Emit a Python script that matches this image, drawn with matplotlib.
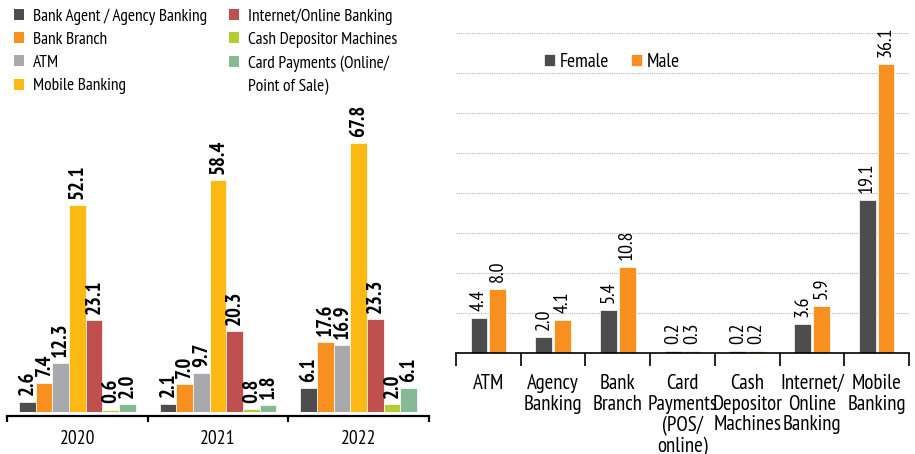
# Access channels chart: usage by year (left) and by gender (right)
import matplotlib
matplotlib.use("Agg")
import matplotlib.pyplot as plt
from matplotlib.patches import Patch
import numpy as np

# ---- data ----
years = ["2020", "2021", "2022"]
agent = [2.6, 2.1, 6.1]
branch = [7.4, 7.0, 17.6]
atm = [12.3, 9.7, 16.9]
mobile = [52.1, 58.4, 67.8]
internet = [23.1, 20.3, 23.3]
cash = [0.6, 0.8, 2.0]
card = [2.0, 1.8, 6.1]

series_names = ["Bank Agent / Agency Banking", "Bank Branch", "ATM", "Mobile Banking",
                "Internet/Online Banking", "Cash Depositor Machines",
                "Card Payments (Online/", "Point of Sale)"]

channels = ["ATM", "Agency\nBanking", "Bank\nBranch", "Card\nPayments\n(POS/\nonline)",
            "Cash\nDepositor\nMachines", "Internet/\nOnline\nBanking", "Mobile\nBanking"]
female = [4.4, 2.0, 5.4, 0.2, 0.2, 3.6, 19.1]
male = [8.0, 4.1, 10.8, 0.3, 0.2, 5.9, 36.1]

colors = ["#4d4d4f", "#f7901e", "#a7a9ac", "#fdb913", "#c0504d", "#b5cc34", "#86b994"]

# condensed font, close to the original's look
plt.rcParams["font.family"] = ["PT Sans Narrow", "Roboto Condensed", "DejaVu Sans"]

fig = plt.figure(figsize=(9.15, 4.54), dpi=100)

# ---------------- left panel ----------------
ax1 = fig.add_axes([7 / 915, 42 / 454, 422 / 915, 0.656])
all_series = [agent, branch, atm, mobile, internet, cash, card]
x = np.arange(len(years))
w = 0.1185
for i, vals in enumerate(all_series):
    pos = x + (i - 3) * w
    bars = ax1.bar(pos, vals, width=w, color=colors[i], edgecolor="white", linewidth=0.5)
    ax1.bar_label(bars, fmt="%.1f", padding=4.5, rotation=90, fontsize=15,
                  fontweight="bold", color="black")

ax1.set_xlim(-0.5, 2.5)
ax1.set_ylim(0, 75)
for s in ["left", "top", "right"]:
    ax1.spines[s].set_visible(False)
ax1.spines["bottom"].set_position(("outward", 3))
ax1.spines["bottom"].set_linewidth(1.6)
ax1.set_yticks([])
ax1.set_xticks([-0.5, 0.5, 1.5, 2.5])
ax1.set_xticklabels([])
ax1.tick_params(axis="x", which="major", direction="out", length=4, width=1.6)
ax1.set_xticks(x, minor=True)
ax1.set_xticklabels(years, minor=True, fontsize=14)
ax1.tick_params(axis="x", which="minor", length=0, pad=10)

# legend: the card entry is split in two rows, the second without a marker
handles = [Patch(facecolor=c, edgecolor="none") for c in colors]
handles.append(Patch(facecolor="none", edgecolor="none"))
leg1 = ax1.legend(handles, series_names, ncol=2, loc="upper left",
                  bbox_to_anchor=(14 / 915, 1 - 8 / 454), bbox_transform=fig.transFigure,
                  frameon=False, fontsize=12.5, handlelength=0.6, handleheight=0.6,
                  handletextpad=0.5, columnspacing=1.25, labelspacing=0.42,
                  borderpad=0, borderaxespad=0)

# ---------------- right panel ----------------
ax2 = fig.add_axes([456 / 915, 101 / 454, 453 / 915, 320 / 454])
xc = np.arange(len(channels))
bw = 0.26
b_f = ax2.bar(xc - 0.145, female, width=bw, color=colors[0], edgecolor="white", linewidth=0.5,
              label="Female")
b_m = ax2.bar(xc + 0.145, male, width=bw, color=colors[1], edgecolor="white", linewidth=0.5,
              label="Male")
ax2.bar_label(b_f, fmt="%.1f", padding=5, rotation=90, fontsize=14.5)
ax2.bar_label(b_m, fmt="%.1f", padding=5, rotation=90, fontsize=14.5)

ax2.set_xlim(-0.5, len(channels) - 0.5)
ax2.set_ylim(0, 40)
ax2.set_yticks(np.arange(5, 45, 5))
ax2.set_yticklabels([])
ax2.tick_params(axis="y", length=0)
ax2.yaxis.grid(True, linestyle=(0, (1, 1)), color="#b5b5b5", linewidth=0.8)
ax2.set_axisbelow(True)
for s in ["left", "top", "right"]:
    ax2.spines[s].set_visible(False)
ax2.spines["bottom"].set_linewidth(1.2)
ax2.set_xticks(np.arange(-0.5, len(channels), 1.0))
ax2.set_xticklabels([])
ax2.tick_params(axis="x", which="major", direction="out", length=9.5, width=1.2)
ax2.set_xticks(xc, minor=True)
ax2.set_xticklabels(channels, minor=True, fontsize=15, linespacing=1.12)
ax2.tick_params(axis="x", which="minor", length=0, pad=15)

leg2 = ax2.legend(ncol=2, loc="upper left", bbox_to_anchor=(544 / 915, 1 - 53 / 454),
                  bbox_transform=fig.transFigure, frameon=False, fontsize=14,
                  handlelength=0.55, handleheight=0.55, handletextpad=0.25,
                  columnspacing=1.14, borderpad=0, borderaxespad=0)

fig.savefig("out.png", dpi=100)
